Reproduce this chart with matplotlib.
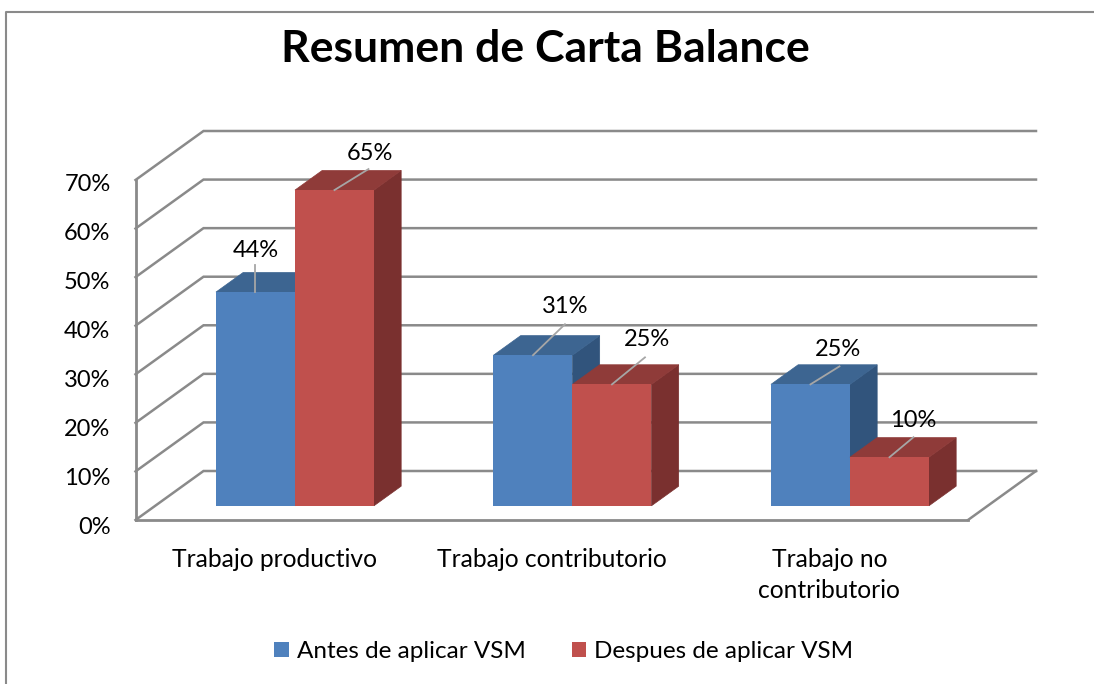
import matplotlib
matplotlib.use("Agg")
import matplotlib.pyplot as plt
from matplotlib.patches import Patch
from matplotlib.lines import Line2D
from matplotlib.transforms import ScaledTranslation

categories = ["Trabajo productivo", "Trabajo contributorio", "Trabajo no\ncontributorio"]
antes = [44, 31, 25]
despues = [65, 25, 10]
series_names = ["Antes de aplicar VSM", "Despues de aplicar VSM"]
y_ticks = [0, 10, 20, 30, 40, 50, 60, 70]
title = "Resumen de Carta Balance"

W, H = 1094, 684
FONT = "Lato"
GRAY = "#8a8a8a"
BLUE = ("#4F81BD", "#3D6591", "#31547C")
RED = ("#C0504D", "#8F3B39", "#7A302F")

fig = plt.figure(figsize=(W / 100, H / 100), dpi=100, facecolor="white")
L, R, T, B = 135.5, 968, 180, 520
ax = fig.add_axes([L / W, 1 - B / H, (R - L) / W, (B - T) / H])
ax.set_xlim(0, 3)
ax.set_ylim(0, 70)
ax.patch.set_alpha(0)

px_x = 3 / (R - L)      # data units per pixel, horizontally
px_y = 70 / (B - T)     # data units per pixel, vertically
DEPTH_X, DEPTH_Y = 68 * px_x, 49 * px_y


def proj(x, y, z):
    return x + z * DEPTH_X, y + z * DEPTH_Y


# walls and floor
for v in y_ticks:
    x0, y0 = proj(0, v, 0)
    x1, y1 = proj(0, v, 1)
    x2, y2 = proj(3, v, 1)
    ax.plot([x0, x1, x2], [y0, y1, y2], color=GRAY, lw=1.8, clip_on=False, zorder=1,
            solid_joinstyle="miter")
x0, y0 = proj(3, 0, 0)
x1, y1 = proj(3, 0, 1)
ax.plot([x0, x1], [y0, y1], color=GRAY, lw=1.8, clip_on=False, zorder=1)

# bars
bar_w = 79 * px_x
Z0, Z1 = 0.29, 0.69
xpos = [i + 0.5 for i in range(len(categories))]
fx, fy = proj(0, 0, Z0)
fx += 1 * px_x
dzx, dzy = (Z1 - Z0) * DEPTH_X, (Z1 - Z0) * DEPTH_Y


def draw_bar(left, value, cols, z):
    xl = left + fx
    xr = xl + bar_w
    yb = fy
    yt = fy + value
    ax.fill([xr, xr + dzx, xr + dzx, xr], [yb, yb + dzy, yt + dzy, yt], facecolor=cols[2],
            edgecolor=cols[2], lw=0.5, zorder=z, clip_on=False)
    ax.fill([xl, xl + dzx, xr + dzx, xr], [yt, yt + dzy, yt + dzy, yt], facecolor=cols[1],
            edgecolor=cols[1], lw=0.5, zorder=z, clip_on=False)
    ax.bar(xl, value, bottom=yb, width=bar_w, align="edge", color=cols[0], lw=0, zorder=z,
           clip_on=False)
    return (xl + xr) / 2, yt


label_offsets = {
    (0, 0): (0, 27, 0, 42), (0, 1): (34, 21, 35, 37),
    (1, 0): (32, 31, 32, 49), (1, 1): (33, 27, 35, 45),
    (2, 0): (29, 18, 28, 35), (2, 1): (24, 20, 24, 37),
}
for i, (a, d) in enumerate(zip(antes, despues)):
    left = xpos[i] - bar_w
    for j, (val, cols) in enumerate(((a, BLUE), (d, RED))):
        cx, yt = draw_bar(left + j * bar_w, val, cols, 3 + 2 * i + j)
        lx, ly, tx, ty = label_offsets[(i, j)]
        ax.plot([cx, cx + lx * px_x], [yt, yt + ly * px_y], color="#a6a6a6", lw=1.3,
                zorder=20, clip_on=False)
        ax.annotate(f"{val}%", (cx, yt), xytext=(tx * 0.72, ty * 0.72),
                    textcoords="offset points", ha="center", va="center",
                    fontsize=17, family=FONT, color="black", zorder=21)

# axes
for s in ("top", "right"):
    ax.spines[s].set_visible(False)
for s in ("left", "bottom"):
    ax.spines[s].set_color(GRAY)
    ax.spines[s].set_linewidth(2)
    ax.spines[s].set_zorder(2)
ax.set_yticks(y_ticks)
ax.set_yticklabels([f"{v}%" for v in y_ticks], fontsize=17, family=FONT, color="black")
ax.set_xticks(xpos)
ax.set_xticklabels(categories, fontsize=17.7, family=FONT, color="black", linespacing=1.45)
ax.tick_params(axis="y", length=0, pad=18)
ax.tick_params(axis="x", length=0, pad=20)
for v, lab in zip(y_ticks, ax.get_yticklabels()):
    shift_px = 5.5 - v * 0.04
    lab.set_transform(lab.get_transform() + ScaledTranslation(0, -shift_px * 0.72 / 72, fig.dpi_scale_trans))

# title, legend, frame
fig.text(545 / W, 1 - 49 / H, title, ha="center", va="center", fontsize=32, fontweight="bold",
         family=FONT, color="black")
handles = [Patch(facecolor=BLUE[0], lw=0, label=series_names[0]),
           Patch(facecolor=RED[0], lw=0, label=series_names[1])]
fig.legend(handles=handles, loc="center", bbox_to_anchor=(564 / W, 1 - 652 / H), ncol=2,
           frameon=False, prop={"family": FONT, "size": 17.5}, handlelength=0.58, handleheight=0.58,
           handletextpad=0.33, columnspacing=1.93, borderpad=0, borderaxespad=0)
fig.add_artist(Line2D([6 / W, 6 / W, 1], [0, 1 - 11.5 / H, 1 - 11.5 / H], color=GRAY, lw=1.5,
                      transform=fig.transFigure))

fig.savefig("out.png", dpi=100)
